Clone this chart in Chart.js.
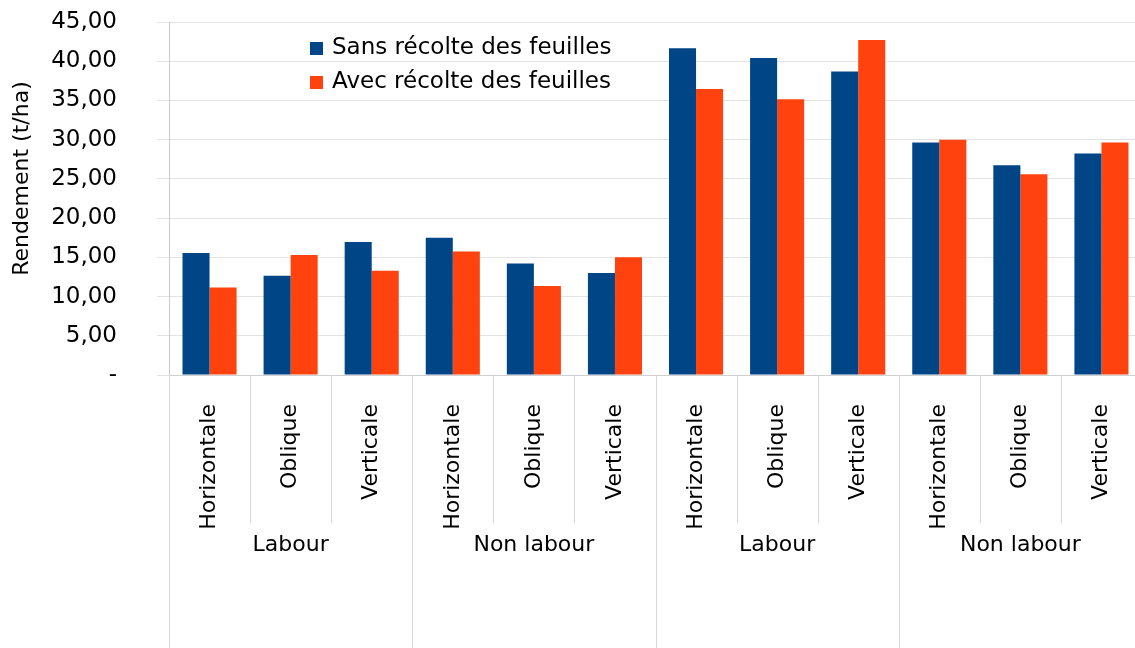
<!DOCTYPE html>
<html>
<head>
<meta charset="utf-8">
<script src="https://cdn.jsdelivr.net/npm/chart.js@4"></script>
<style>
  html, body { margin: 0; padding: 0; background: #fff; overflow: hidden; }
  #wrap { width: 1142px; height: 648px; }
</style>
</head>
<body>
<div id="wrap"><canvas id="rendementChart"></canvas></div>
<script>
const orientations = ['Horizontale', 'Oblique', 'Verticale', 'Horizontale', 'Oblique', 'Verticale',
                      'Horizontale', 'Oblique', 'Verticale', 'Horizontale', 'Oblique', 'Verticale'];
const groups = ['Labour', 'Non labour', 'Labour', 'Non labour'];
const sansRecolte = [15.55, 12.65, 16.95, 17.5, 14.2, 13.0, 41.65, 40.4, 38.7, 29.65, 26.75, 28.25];
const avecRecolte = [11.15, 15.3, 13.3, 15.75, 11.35, 15.0, 36.45, 35.15, 42.7, 30.0, 25.6, 29.65];
const yMax = 45, yStep = 5;

const font = { family: 'DejaVu Sans', size: 22 };
const bigFont = { family: 'DejaVu Sans', size: 23 };
Chart.defaults.font.family = font.family;
Chart.defaults.color = '#000';

// legend inside the plot, group labels, separators and axis title
const extras = {
    id: 'extras',
    afterDraw(chart) {
        const ctx = chart.ctx, area = chart.chartArea, x = chart.scales.x;
        const half = (x.getPixelForValue(1) - x.getPixelForValue(0)) / 2;
        ctx.save();
        ctx.strokeStyle = '#d9d9d9';
        ctx.lineWidth = 1;
        orientations.forEach((o, i) => {
            const px = Math.round(x.getPixelForValue(i) - half) + 0.5;
            ctx.beginPath();
            ctx.moveTo(px, area.bottom);
            ctx.lineTo(px, i % 3 === 0 ? chart.height : area.bottom + 148);
            ctx.stroke();
        });
        ctx.font = font.size + 'px ' + font.family;
        ctx.fillStyle = '#000';
        ctx.textAlign = 'center';
        ctx.textBaseline = 'middle';
        groups.forEach((g, i) => {
            const cx = (x.getPixelForValue(i * 3) + x.getPixelForValue(i * 3 + 2)) / 2;
            ctx.fillText(g, cx, area.bottom + 170);
        });

        // y axis title
        ctx.save();
        ctx.translate(area.left - 147, (area.top + area.bottom) / 2 - 20);
        ctx.rotate(-Math.PI / 2);
        ctx.fillText('Rendement (t/ha)', 0, 0);
        ctx.restore();

        // legend
        ctx.font = bigFont.size + 'px ' + bigFont.family;
        ctx.textAlign = 'left';
        chart.data.datasets.forEach((ds, i) => {
            const ly = area.top + 26 + i * 34;
            ctx.fillStyle = ds.backgroundColor;
            ctx.fillRect(area.left + 141, ly - 6, 13, 13);
            ctx.fillStyle = '#000';
            ctx.fillText(ds.label, area.left + 163, ly);
        });
        ctx.restore();
    }
};

new Chart(document.getElementById('rendementChart'), {
    type: 'bar',
    data: {
        labels: orientations,
        datasets: [{
            label: 'Sans récolte des feuilles',
            data: sansRecolte,
            backgroundColor: '#004586'
        }, {
            label: 'Avec récolte des feuilles',
            data: avecRecolte,
            backgroundColor: '#ff420e'
        }]
    },
    options: {
        responsive: true,
        maintainAspectRatio: false,
        animation: false,
        layout: { padding: { top: 22, right: 0, bottom: 0, left: 0 } },
        datasets: { bar: { barPercentage: 1, categoryPercentage: 0.667 } },
        plugins: { legend: { display: false }, tooltip: { enabled: false } },
        scales: {
            x: {
                grid: { display: false },
                border: { display: true, color: '#d0d0d0' },
                ticks: { font: font, maxRotation: 90, minRotation: 90, padding: 21, autoSkip: false },
                afterFit: s => { s.height = 273; s.paddingLeft = 0; s.paddingRight = 0; }
            },
            y: {
                min: 0,
                max: yMax,
                grid: { color: '#e3e3e3', tickLength: 12 },
                border: { color: '#c8c8c8' },
                ticks: {
                    font: bigFont,
                    stepSize: yStep,
                    padding: 40,
                    callback: v => v === 0 ? '-' : v.toFixed(2).replace('.', ',')
                },
                afterFit: s => { s.width = 169; s.paddingTop = 0; s.paddingBottom = 0; }
            }
        }
    },
    plugins: [extras]
});
</script>
</body>
</html>
